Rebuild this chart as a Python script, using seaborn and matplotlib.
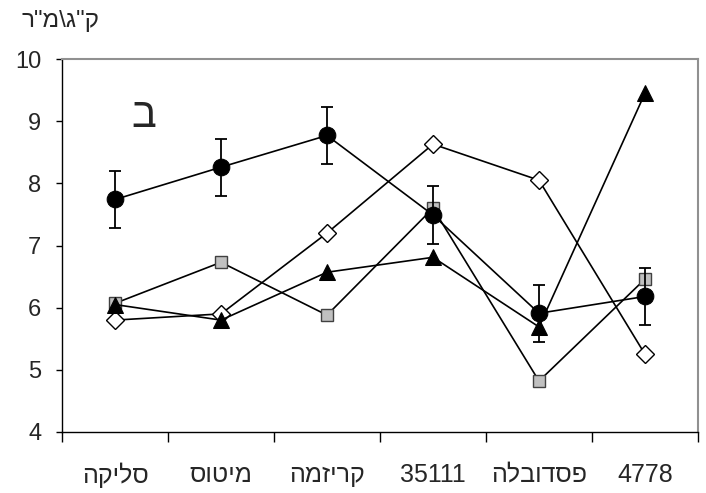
import matplotlib
matplotlib.use("Agg")
import matplotlib.pyplot as plt
import seaborn as sns
import numpy as np
import pandas as pd

# ---- data ----
categories = ["סליקה", "מיטוס", "קריזמה", "35111", "פסדובלה", "4778"]
circle_vals = [7.74, 8.26, 8.77, 7.49, 5.91, 6.18]
circle_err = [0.46, 0.46, 0.46, 0.46, 0.46, 0.46]
square_vals = [6.07, 6.73, 5.88, 7.60, 4.82, 6.46]
triangle_vals = [6.05, 5.80, 6.57, 6.81, 5.69, 9.45]
diamond_vals = [5.80, 5.90, 7.20, 8.63, 8.05, 5.25]
y_ticks = [4, 5, 6, 7, 8, 9, 10]
y_label = 'ק"ג\\מ"ר'
panel_letter = "ב"


def visual(s):
    # matplotlib has no bidi support: reverse Hebrew text for display
    if any('\u0590' <= c <= '\u05ff' for c in s):
        return s[::-1]
    return s


sns.set_theme(style="white")
fam = ['Liberation Sans', 'DejaVu Sans']
plt.rcParams['font.family'] = fam

pos = np.arange(len(categories))
df = pd.DataFrame({
    "pos": np.tile(pos, 4),
    "value": circle_vals + square_vals + triangle_vals + diamond_vals,
    "series": ["circle"] * 6 + ["square"] * 6 + ["triangle"] * 6 + ["diamond"] * 6,
})

fig = plt.figure(figsize=(7.06, 4.93), dpi=100)
ax = fig.add_axes([62 / 706, 1 - 432 / 493, 636 / 706, 373 / 493])

styles = {
    "square": dict(marker="s", markersize=9, markerfacecolor="#c0c0c0", markeredgecolor="#404040", markeredgewidth=1.0),
    "diamond": dict(marker="D", markersize=9, markerfacecolor="white", markeredgecolor="black", markeredgewidth=1.0),
    "triangle": dict(marker="^", markersize=12, markerfacecolor="black", markeredgecolor="black"),
    "circle": dict(marker="o", markersize=12, markerfacecolor="black", markeredgecolor="black"),
}
for i, name in enumerate(["square", "diamond", "triangle", "circle"]):
    sub = df[df.series == name]
    sns.lineplot(data=sub, x="pos", y="value", ax=ax, color="black", linewidth=1.2,
                 zorder=3 + i, legend=False, **styles[name])

ax.errorbar(pos, circle_vals, yerr=circle_err, fmt="none", ecolor="black",
            elinewidth=1.3, capsize=4.5, capthick=1.3, zorder=7)

ax.set_xlim(-0.5, len(categories) - 0.5)
ax.set_ylim(4, 10)
ax.set_yticks(y_ticks)
ax.set_yticklabels([str(v) for v in y_ticks], fontsize=17)
ax.set_xticks(pos)
ax.set_xticklabels([visual(c) for c in categories], fontsize=18)
ax.set_xticks(np.arange(-0.5, len(categories)), minor=True)
ax.tick_params(axis="x", which="major", length=0, pad=22)
ax.tick_params(axis="x", which="minor", direction="out", length=7, width=1, color="black", bottom=True)
ax.tick_params(axis="y", which="major", direction="out", length=4, width=1, color="black", left=True, pad=11)
ax.set_xlabel("")
ax.set_ylabel("")

for side in ["left", "bottom"]:
    ax.spines[side].set_color("black")
    ax.spines[side].set_linewidth(1.0)
for side in ["top", "right"]:
    ax.spines[side].set_color("#909090")
    ax.spines[side].set_linewidth(1.5)

fig.text(22 / 706, 1 - 21 / 493, visual(y_label), fontsize=17.5, ha="left", va="center")
ax.text(0.27, 9.08, panel_letter, fontsize=30, ha="center", va="center")

fig.savefig("out.png", dpi=100)
